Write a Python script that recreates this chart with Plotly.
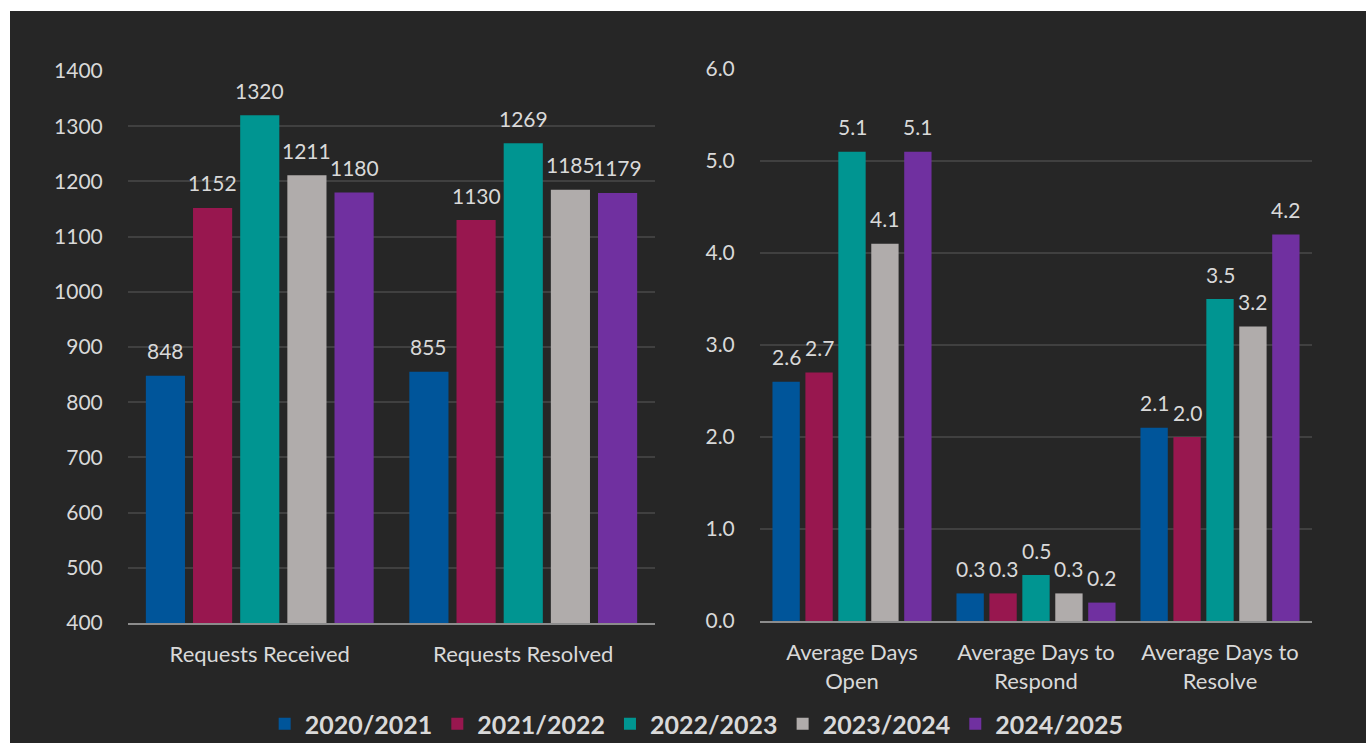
import plotly.graph_objects as go

years = ["2020/2021", "2021/2022", "2022/2023", "2023/2024", "2024/2025"]
colors = ["#00559A", "#98174F", "#009591", "#B0ACAB", "#7030A0"]

req_categories = ["Requests Received", "Requests Resolved"]
req_values = {
    "2020/2021": [848, 855],
    "2021/2022": [1152, 1130],
    "2022/2023": [1320, 1269],
    "2023/2024": [1211, 1185],
    "2024/2025": [1180, 1179],
}

day_categories = ["Average Days<br>Open", "Average Days to<br>Respond", "Average Days to<br>Resolve"]
day_values = {
    "2020/2021": [2.6, 0.3, 2.1],
    "2021/2022": [2.7, 0.3, 2.0],
    "2022/2023": [5.1, 0.5, 3.5],
    "2023/2024": [4.1, 0.3, 3.2],
    "2024/2025": [5.1, 0.2, 4.2],
}

BG = "#262626"
TXT = "#D9D9D9"
FONT = "Lato"
BARGAP = 0.105
BARGROUPGAP = 0.17
LABEL_SIZE = 21

fig = go.Figure()
annotations = []
n = len(years)
slot = (1 - BARGAP) / n
for i, (yr, c) in enumerate(zip(years, colors)):
    fig.add_trace(go.Bar(
        x=req_categories, y=req_values[yr], name=yr, marker_color=c,
        marker_line_width=0, xaxis="x", yaxis="y", legendgroup=yr, showlegend=True,
    ))
    for j, v in enumerate(req_values[yr]):
        annotations.append(dict(xref="x", yref="y", x=j + (i - (n - 1) / 2) * slot, y=v,
                                text=f"{v}", showarrow=False, yanchor="middle", yshift=25,
                                font=dict(color=TXT, size=LABEL_SIZE, family=FONT)))
for i, (yr, c) in enumerate(zip(years, colors)):
    fig.add_trace(go.Bar(
        x=day_categories, y=day_values[yr], name=yr, marker_color=c,
        marker_line_width=0, xaxis="x2", yaxis="y2", legendgroup=yr, showlegend=False,
    ))
    for j, v in enumerate(day_values[yr]):
        annotations.append(dict(xref="x2", yref="y2", x=j + (i - (n - 1) / 2) * slot, y=v,
                                text=f"{v:.1f}", showarrow=False, yanchor="middle", yshift=25,
                                font=dict(color=TXT, size=LABEL_SIZE, family=FONT)))

W, H = 1366, 743
axis_common = dict(showgrid=False, linecolor="#8C8C8C", linewidth=2, showline=True,
                   ticks="outside", ticklen=11, tickcolor="rgba(0,0,0,0)",
                   tickfont=dict(color=TXT, size=22, family=FONT), zeroline=False,
                   fixedrange=True)
yaxis_common = dict(showgrid=True, gridcolor="#404040", gridwidth=2, showline=False,
                    zeroline=False, ticks="outside", ticklen=20, tickcolor="rgba(0,0,0,0)",
                    tickfont=dict(color=TXT, size=21, family=FONT))

shapes = [
    dict(type="rect", xref="paper", yref="paper", x0=0, x1=10 / W, y0=0, y1=1,
         fillcolor="white", line=dict(width=0), layer="above"),
    dict(type="rect", xref="paper", yref="paper", x0=0, x1=1, y0=(H - 11) / H, y1=1,
         fillcolor="white", line=dict(width=0), layer="above"),
]

fig.update_layout(
    width=W, height=H,
    margin=dict(l=0, r=0, t=0, b=0, autoexpand=False),
    paper_bgcolor=BG, plot_bgcolor=BG,
    barmode="group", bargap=BARGAP, bargroupgap=BARGROUPGAP,
    font=dict(family=FONT, color=TXT),
    xaxis=dict(domain=[128 / W, 655 / W], anchor="y", **axis_common),
    yaxis=dict(domain=[(H - 623) / H, (H - 71) / H], anchor="x", range=[400, 1400], dtick=100,
               **yaxis_common),
    xaxis2=dict(domain=[760 / W, 1312 / W], anchor="y2", **axis_common),
    yaxis2=dict(domain=[(H - 621) / H, (H - 69) / H], anchor="x2", range=[0, 6], dtick=1,
                tickformat=".1f", **yaxis_common),
    legend=dict(orientation="h", x=0.51, xanchor="center", y=(H - 724) / H, yanchor="middle",
                font=dict(color=TXT, size=25, family=FONT, weight="bold"),
                bgcolor="rgba(0,0,0,0)", itemwidth=30, tracegroupgap=0),
    annotations=annotations,
    shapes=shapes,
)

fig.write_html("out.html")
